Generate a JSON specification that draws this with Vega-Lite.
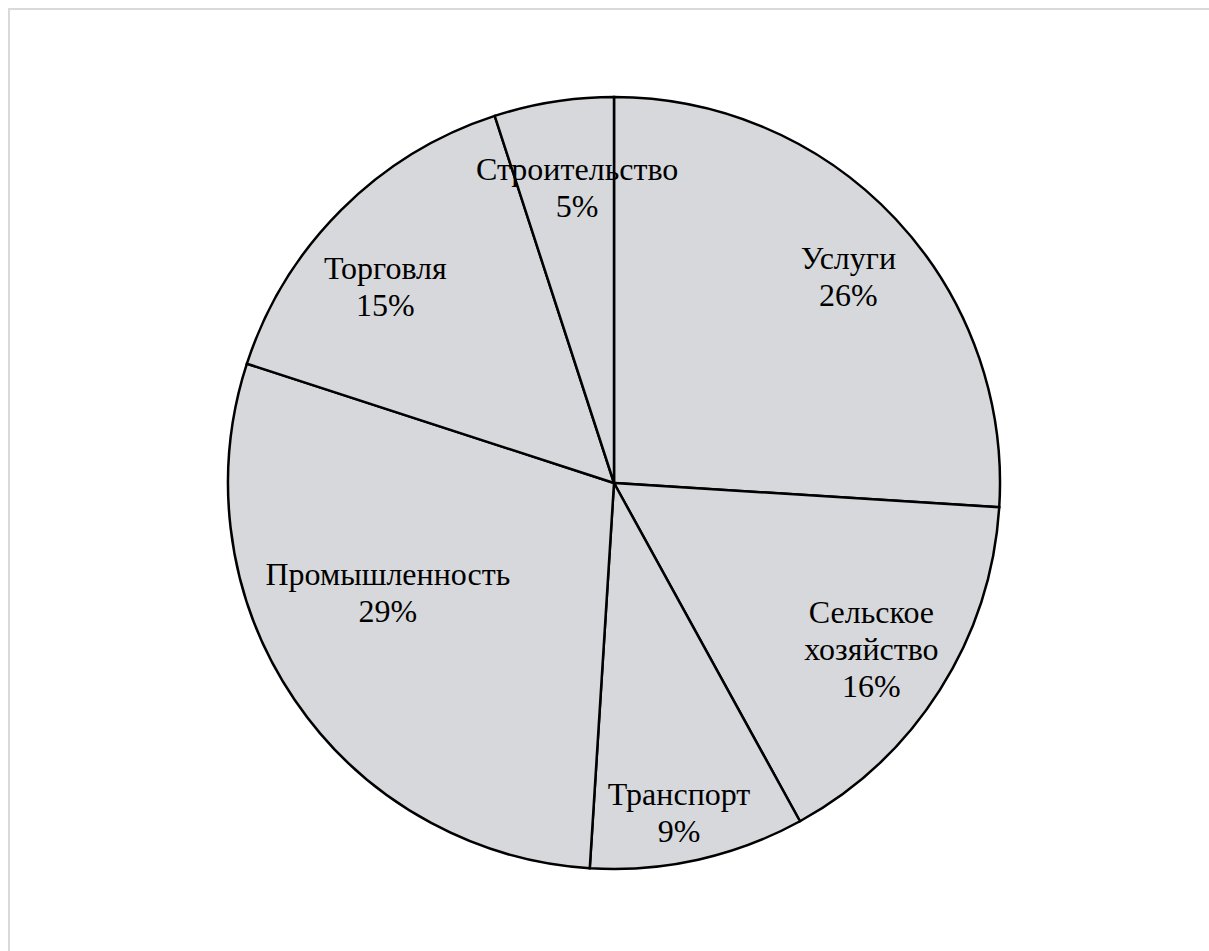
{
  "$schema": "https://vega.github.io/schema/vega-lite/v6.json",
  "autosize": {"type": "none"},
  "padding": {"left": 9, "top": 9, "right": 0, "bottom": 0},
  "width": 1210,
  "height": 948,
  "background": "white",
  "config": {"view": {"stroke": null}, "text": {"font": "Liberation Serif", "fontSize": 32, "lineHeight": 37, "color": "black", "align": "center", "baseline": "middle"}},
  "data": {
    "values": [
      {"sector": "Услуги", "share": 26, "idx": 1},
      {"sector": "Сельское хозяйство", "share": 16, "idx": 2},
      {"sector": "Транспорт", "share": 9, "idx": 3},
      {"sector": "Промышленность", "share": 29, "idx": 4},
      {"sector": "Торговля", "share": 15, "idx": 5},
      {"sector": "Строительство", "share": 5, "idx": 6}
    ]
  },
  "transform": [
    {"calculate": "split(replace(datum.sector, ' ', '\\n') + '\\n' + datum.share + '%', '\\n')", "as": "label"}
  ],
  "layer": [
    {
      "data": {"values": [{}]},
      "transform": [],
      "mark": {"type": "rect", "fill": "transparent", "stroke": "#d9d9d9", "strokeWidth": 2}
    },
    {
      "mark": {"type": "arc", "outerRadius": 386, "fill": "#d7d8db", "stroke": "black", "strokeWidth": 2.5},
      "encoding": {
        "theta": {"field": "share", "type": "quantitative", "stack": true},
        "order": {"field": "idx", "type": "quantitative"}
      }
    },
    {
      "mark": {"type": "text", "radius": 312, "dx": 7, "dy": -10},
      "encoding": {
        "theta": {"field": "share", "type": "quantitative", "stack": true},
        "order": {"field": "idx", "type": "quantitative"},
        "text": {"condition": {"test": "datum.sector === 'Услуги'", "field": "label"}, "value": ""}
      }
    },
    {
      "mark": {"type": "text", "radius": 312, "dx": -6, "dy": -37},
      "encoding": {
        "theta": {"field": "share", "type": "quantitative", "stack": true},
        "order": {"field": "idx", "type": "quantitative"},
        "text": {"condition": {"test": "datum.sector === 'Сельское хозяйство'", "field": "label"}, "value": ""}
      }
    },
    {
      "mark": {"type": "text", "radius": 312, "dx": -3, "dy": 8},
      "encoding": {
        "theta": {"field": "share", "type": "quantitative", "stack": true},
        "order": {"field": "idx", "type": "quantitative"},
        "text": {"condition": {"test": "datum.sector === 'Транспорт'", "field": "label"}, "value": ""}
      }
    },
    {
      "mark": {"type": "text", "radius": 312, "dx": 32, "dy": -83},
      "encoding": {
        "theta": {"field": "share", "type": "quantitative", "stack": true},
        "order": {"field": "idx", "type": "quantitative"},
        "text": {"condition": {"test": "datum.sector === 'Промышленность'", "field": "label"}, "value": ""}
      }
    },
    {
      "mark": {"type": "text", "radius": 312, "dx": -8, "dy": 7},
      "encoding": {
        "theta": {"field": "share", "type": "quantitative", "stack": true},
        "order": {"field": "idx", "type": "quantitative"},
        "text": {"condition": {"test": "datum.sector === 'Торговля'", "field": "label"}, "value": ""}
      }
    },
    {
      "mark": {"type": "text", "radius": 312, "dx": 12, "dy": -5},
      "encoding": {
        "theta": {"field": "share", "type": "quantitative", "stack": true},
        "order": {"field": "idx", "type": "quantitative"},
        "text": {"condition": {"test": "datum.sector === 'Строительство'", "field": "label"}, "value": ""}
      }
    }
  ]
}
